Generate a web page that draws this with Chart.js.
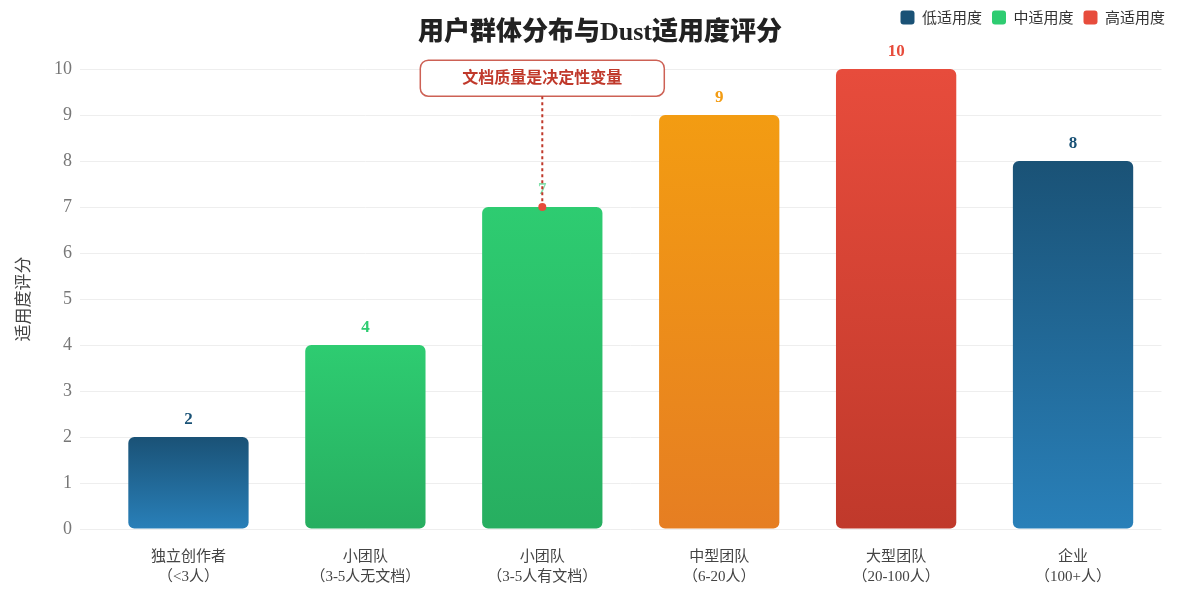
<!DOCTYPE html>
<html>
<head>
<meta charset="utf-8">
<script src="https://cdn.jsdelivr.net/npm/chart.js@4.4.1/dist/chart.umd.min.js"></script>
<style>
  html, body { margin: 0; padding: 0; background: #fff; }
  #wrap { width: 1200px; height: 600px; }
</style>
</head>
<body>
<div id="wrap"><canvas id="fitChart"></canvas></div>
<script>
var groups = [
    ["独立创作者", "（<3人）"],
    ["小团队", "（3-5人无文档）"],
    ["小团队", "（3-5人有文档）"],
    ["中型团队", "（6-20人）"],
    ["大型团队", "（20-100人）"],
    ["企业", "（100+人）"]
];
var scores = [2, 4, 7, 9, 10, 8];
var legendNames = ["低适用度", "中适用度", "高适用度"];
var noteText = "文档质量是决定性变量";
var noteIndex = 2;      // bar the note points at
var noteLevel = 9.8;    // height of the note box, in score units

// colours
var legendColors = ["#1a5276", "#2ecc71", "#e74c3c"];
var barTop = ["#1a5276", "#2ecc71", "#2ecc71", "#f39c12", "#e74c3c", "#1a5276"];
var barBottom = ["#2980b9", "#27ae60", "#27ae60", "#e67e22", "#c0392b", "#2980b9"];
var labelColors = ["#1a5276", "#2ecc71", "#2ecc71", "#f39c12", "#e74c3c", "#1a5276"];

var serif = "'Liberation Serif', 'Noto Sans CJK SC', serif";
var sans = "'Noto Sans CJK SC', 'Noto Sans', sans-serif";

var titlePlugin = {
    id: "titleText",
    afterDraw: function (chart) {
        var ctx = chart.ctx;
        ctx.save();
        ctx.font = "900 26px " + serif;
        ctx.fillStyle = "#222";
        ctx.textAlign = "center";
        ctx.textBaseline = "middle";
        ctx.fillText("用户群体分布与Dust适用度评分", chart.width / 2, 33);
        ctx.restore();
    }
};

var labelPlugin = {
    id: "barLabels",
    afterDatasetsDraw: function (chart) {
        var ctx = chart.ctx;
        var bars = chart.getDatasetMeta(0).data;
        ctx.save();
        ctx.font = "bold 17px " + serif;
        ctx.textAlign = "center";
        ctx.textBaseline = "bottom";
        bars.forEach(function (bar, i) {
            ctx.globalAlpha = i === noteIndex ? 0.6 : 1;
            ctx.fillStyle = labelColors[i];
            ctx.fillText(scores[i], bar.x, bar.y - 9);
        });
        ctx.restore();

        // note box with dashed pointer
        var bar = bars[noteIndex];
        var cy = chart.scales.y.getPixelForValue(noteLevel);
        var w = 244, h = 36;
        ctx.save();
        ctx.strokeStyle = "#c0392b";
        ctx.lineWidth = 2;
        ctx.setLineDash([3, 3]);
        ctx.beginPath();
        ctx.moveTo(bar.x, cy + h / 2);
        ctx.lineTo(bar.x, bar.y);
        ctx.stroke();
        ctx.setLineDash([]);
        ctx.fillStyle = "#e74c3c";
        ctx.beginPath();
        ctx.arc(bar.x, bar.y, 4, 0, Math.PI * 2);
        ctx.fill();

        ctx.beginPath();
        ctx.roundRect(bar.x - w / 2, cy - h / 2, w, h, 8);
        ctx.fillStyle = "#fff";
        ctx.fill();
        ctx.lineWidth = 1.5;
        ctx.strokeStyle = "rgba(192,57,43,0.8)";
        ctx.stroke();
        ctx.font = "bold 16px " + serif;
        ctx.fillStyle = "#c0392b";
        ctx.textAlign = "center";
        ctx.textBaseline = "middle";
        ctx.fillText(noteText, bar.x, cy + 1);
        ctx.restore();
    }
};

new Chart("fitChart", {
    type: "bar",
    data: {
        labels: groups,
        datasets: [{
            data: scores,
            backgroundColor: function (c) {
                var chart = c.chart;
                var i = c.dataIndex;
                if (!chart.chartArea || c.type !== "data") {
                    return barTop[i];
                }
                var y = chart.scales.y;
                var g = chart.ctx.createLinearGradient(0, y.getPixelForValue(scores[i]), 0, y.getPixelForValue(0));
                g.addColorStop(0, barTop[i]);
                g.addColorStop(1, barBottom[i]);
                return g;
            },
            borderRadius: 6,
            borderSkipped: false,
            barPercentage: 0.68,
            categoryPercentage: 1
        }]
    },
    options: {
        responsive: true,
        maintainAspectRatio: false,
        animation: false,
        layout: {
            padding: { top: 0, right: 25, left: 0, bottom: 0 }
        },
        plugins: {
            title: { display: false },
            tooltip: { enabled: false },
            legend: {
                position: "top",
                align: "end",
                onClick: null,
                labels: {
                    boxWidth: 14,
                    boxHeight: 14,
                    padding: 10,
                    useBorderRadius: true,
                    borderRadius: 3,
                    color: "#333",
                    font: { family: sans, size: 15 },
                    generateLabels: function () {
                        return legendNames.map(function (n, i) {
                            return {
                                text: n,
                                fillStyle: legendColors[i],
                                strokeStyle: legendColors[i],
                                lineWidth: 0,
                                borderRadius: 3,
                                hidden: false,
                                index: i,
                                fontColor: "#333"
                            };
                        });
                    }
                }
            }
        },
        scales: {
            x: {
                grid: { display: false },
                border: { display: false },
                ticks: {
                    color: "#444",
                    padding: 10,
                    font: { family: serif, size: 15, lineHeight: 1.35 }
                },
                afterFit: function (s) { s.height = 71; }
            },
            xTop: {
                position: "top",
                display: true,
                grid: { display: false },
                border: { display: false },
                ticks: { display: false },
                afterFit: function (s) { s.height = 34; }
            },
            y: {
                min: 0,
                max: 10,
                ticks: {
                    stepSize: 1,
                    color: "#777",
                    padding: 8,
                    font: { family: serif, size: 18 }
                },
                grid: {
                    color: "#eeeeee",
                    tickLength: 20,
                    tickColor: "#eeeeee"
                },
                border: { display: false },
                title: {
                    display: true,
                    text: "适用度评分",
                    color: "#444",
                    padding: { top: 12, bottom: 0 },
                    font: { family: sans, size: 17 }
                },
                afterFit: function (s) { s.width = 100; }
            },
            yRight: {
                position: "right",
                display: true,
                grid: { display: false },
                border: { display: false },
                ticks: { display: false },
                afterFit: function (s) { s.width = 13.5; }
            }
        }
    },
    plugins: [titlePlugin, labelPlugin]
});
</script>
</body>
</html>
